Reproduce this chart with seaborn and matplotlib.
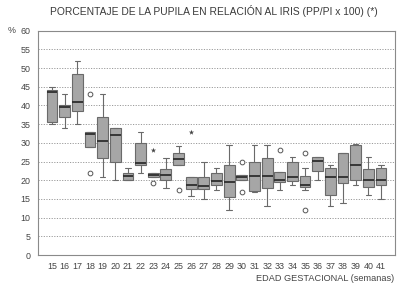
import numpy as np
import pandas as pd
import matplotlib
matplotlib.use("Agg")
import matplotlib.pyplot as plt
import seaborn as sns

# semanas de gestacion y resumen de cada caja (min, q1, mediana, q3, max)
weeks = [str(w) for w in range(15, 42)]
mins = [35, 34, 35, 29, 21, 20, 20, 22, 20.9, 18, 24, 15.8, 15, 17.4, 12, 20.1, 17, 13, 17.3, 18.8, 17.5, 20.1, 13, 13.9, 18.8, 16.1, 15]
q1s  = [35.5, 37, 38.5, 29, 26, 25, 20.1, 24.1, 21, 20.2, 24.1, 17.8, 17.6, 18.7, 15.6, 20.1, 17.2, 18, 19.5, 19.8, 18.1, 22.6, 16.1, 19.2, 20.1, 18.1, 18.8]
meds = [43.5, 39.5, 41, 32.5, 30.5, 32, 21.1, 24.5, 21.5, 21.5, 25.6, 18.8, 18.5, 19.8, 19.6, 20.8, 21.2, 21.1, 20.2, 21, 18.8, 25.2, 20.8, 21, 24.1, 20.1, 20.1]
q3s  = [44, 40, 48.3, 33, 36.8, 34, 22, 30, 22, 23, 27.2, 21, 20.8, 22, 24.1, 21.4, 25, 26, 22.2, 25, 21.1, 26.1, 23.2, 27.2, 29.4, 22.9, 23.2]
maxs = [45, 43, 52, 33, 43, 34, 23.2, 33, 22, 26, 29.2, 21, 25, 23.2, 29.4, 21.4, 29.4, 29.4, 22.2, 26.1, 23.2, 26.1, 24.1, 27.2, 29.6, 26.3, 24.1]

# valores atipicos (o) y extremos (*)
out_weeks = ["18", "18", "23", "25", "30", "30", "33", "35", "35"]
out_vals  = [43, 22, 19.2, 17.4, 24.9, 17, 28.1, 27.2, 12]
ext_weeks = ["23", "26"]
ext_vals  = [28.1, 33]

rows = []
for w, a, b, c, d, e in zip(weeks, mins, q1s, meds, q3s, maxs):
    for v in (a, b, c, d, e):
        rows.append((w, v))
df = pd.DataFrame(rows, columns=["semana", "pct"])
df_out = pd.DataFrame({"semana": out_weeks, "pct": out_vals})
df_ext = pd.DataFrame({"semana": ext_weeks, "pct": ext_vals})

sns.set_style("white")
plt.rcParams["font.family"] = ["Liberation Sans", "DejaVu Sans"]

fig = plt.figure(figsize=(4.0, 2.86), dpi=100)
ax = fig.add_axes([0.095, 0.108, 0.8925, 0.785])

ax.yaxis.grid(True, linestyle=(0, (1.2, 1.5)), color="#9a9a9a", linewidth=0.7)
ax.set_axisbelow(True)

sns.boxplot(data=df, x="semana", y="pct", order=weeks, whis=(0, 100),
            width=0.85, showfliers=False, color="#a6a6a6", linecolor="#6a6a6a",
            linewidth=0.8,
            medianprops=dict(color="#2e2e2e", linewidth=1.3), ax=ax)
sns.stripplot(data=df_out, x="semana", y="pct", order=weeks, jitter=False,
              marker="o", size=3.4, facecolor="white", edgecolor="#555555",
              linewidth=0.7, ax=ax)
sns.stripplot(data=df_ext, x="semana", y="pct", order=weeks, jitter=False,
              marker="*", size=4, color="#444444", ax=ax)

ax.set_ylim(0, 60)
ax.set_xlim(-1.1, 27.1)
ax.set_yticks(range(0, 61, 5))
ax.set_xlabel("")
ax.set_ylabel("")
ax.tick_params(axis="both", labelsize=6.4, colors="#444444", length=2, width=0.6)
ax.tick_params(axis="x", pad=5, length=0)
for s in ax.spines.values():
    s.set_color("#8a8a8a")
    s.set_linewidth(0.8)

fig.text(0.535, 0.962, "PORCENTAJE DE LA PUPILA EN RELACIÓN AL IRIS (PP/PI x 100) (*)",
         ha="center", va="center", fontsize=7.4, color="#3a3a3a")
fig.text(0.02, 0.893, "%", ha="left", va="center", fontsize=6.4, color="#444444")
fig.text(0.985, 0.025, "EDAD GESTACIONAL (semanas)", ha="right", va="center",
         fontsize=6.6, color="#444444")

fig.savefig("out.png", dpi=100)
